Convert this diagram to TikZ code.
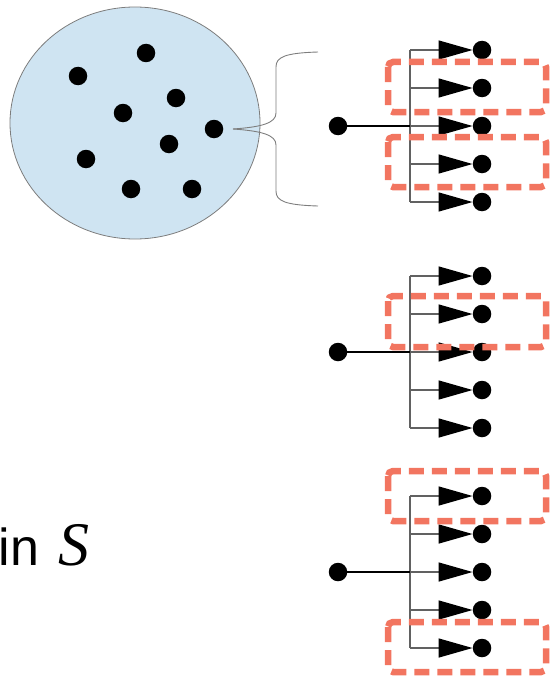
\documentclass[tikz,border=0pt]{standalone}
\usepackage{fontspec}
\usetikzlibrary{arrows.meta}
\newfontfamily\labelsans{Liberation Sans}
\newfontfamily\labelserif{Liberation Serif}
\definecolor{setblue}{RGB}{207,228,242}
\definecolor{groupred}{RGB}{242,117,96}
\definecolor{bracegray}{RGB}{125,125,125}
\begin{document}
\begin{tikzpicture}[x=1pt,y=-1pt,
  dot/.style={circle,fill=black,inner sep=0pt,minimum size=18.5pt},
  rootline/.style={line width=1.8pt,black},
  barline/.style={line width=1.6pt,black!62},
  branch/.style={line width=1.4pt,draw=black!62,
     -{Triangle[length=34pt,width=19pt,color=black]}},
  groupbox/.style={draw=groupred,line width=6.5pt,dash pattern=on 15pt off 8pt,
     rounded corners=5pt},
  bracestyle/.style={draw=bracegray,line width=0.9pt}
  ]
\useasboundingbox (0,0) rectangle (551,677);

% the set
\draw[fill=setblue,draw=bracegray,line width=0.8pt] (135,123) ellipse [x radius=125pt, y radius=116pt];
\foreach \n/\px/\py in {1/146/53, 2/78/76, 3/176/98, 4/123/113, 5/214/129,
                        6/169/144, 7/86/159, 8/131/189, 9/192/189} {
  \node[dot] (s\n) at (\px,\py) {};
}

% brace
\coordinate (tip) at (233,129);
\coordinate (btop) at (318,52);
\coordinate (bbot) at (318,206);
\draw[bracestyle] (btop) .. controls (285,53) and (276,57) .. (276,67)
   -- (276,113) .. controls (276,123) and (262,127) .. (tip);
\draw[bracestyle] (tip) .. controls (262,131) and (276,135) .. (276,145)
   -- (276,191) .. controls (276,201) and (285,205) .. (bbot);

% trees
\foreach \t/\ry in {1/126, 2/352, 3/572} {
  \node[dot] (r\t) at (338,\ry) {};
  \coordinate (j\t) at (410,\ry);
  \foreach \k/\dy in {1/-76, 2/-38, 3/0, 4/38, 5/76} {
    \node[dot] (l\t\k) at (482,\ry+\dy) {};
    \coordinate (b\t\k) at (410,\ry+\dy);
  }
  \draw[barline] (b\t1) -- (b\t5);
  \foreach \k in {1,...,5} {
    \draw[branch] (b\t\k) -- (l\t\k);
  }
  \draw[rootline] (r\t) -- (j\t);
}

% groups
\draw[groupbox] (388,62) rectangle (546,112);
\draw[groupbox] (388,137) rectangle (546,187);
\draw[groupbox] (388,296) rectangle (546,347);
\draw[groupbox] (388,471) rectangle (546,521);
\draw[groupbox] (388,622) rectangle (546,672);

% text
\node[anchor=base west,inner sep=0pt,font=\labelsans\fontsize{52}{56}\selectfont] (intext) at (-1.5,565) {in};
\node[anchor=base west,inner sep=0pt,font=\labelserif\itshape\fontsize{62}{66}\selectfont] (settext) at (58,565) {S};
\end{tikzpicture}
\end{document}
